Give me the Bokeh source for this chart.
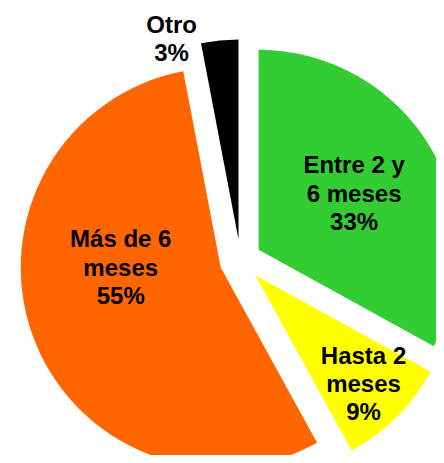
import math
from bokeh.plotting import figure
from bokeh.models import Range1d, ColumnDataSource
from bokeh.core.properties import value
from bokeh.embed import file_html
from bokeh.resources import INLINE

# Data
categories = ["Entre 2 y\n6 meses", "Hasta 2\nmeses", "Más de 6\nmeses", "Otro"]
percents = [33, 9, 55, 3]
colors = ["#33CC33", "#FFFF00", "#FF6600", "#000000"]

# Layout (screen px, y measured up from the bottom of a 463px-tall image)
W, H = 436, 455
CX, CY = 240, 463 - 260   # pie centre
R = 200
EXPLODE = 21
# label anchor: (distance from exploded apex, angle shift in degrees) per slice
label_polar = [(111, 0), (153, 0), (100, -20), (212, 13)]

p = figure(width=W, height=H, output_backend="svg", toolbar_location=None,
           x_range=Range1d(0, W), y_range=Range1d(463 - H, 463),
           min_border=0, outline_line_color=None)
p.xaxis.visible = False
p.yaxis.visible = False
p.grid.visible = False
p.background_fill_color = "white"
p.border_fill_color = "white"

total = float(sum(percents))
xs, ys, starts, ends, lx, ly, labels = [], [], [], [], [], [], []
cum = 0.0
for cat, pct, (ld, ls) in zip(categories, percents, label_polar):
    a = cum / total
    b = (cum + pct) / total
    cum += pct
    start = math.pi / 2 - 2 * math.pi * b
    end = math.pi / 2 - 2 * math.pi * a
    mid = (start + end) / 2
    ox = CX + EXPLODE * math.cos(mid)
    oy = CY + EXPLODE * math.sin(mid)
    xs.append(ox)
    ys.append(oy)
    starts.append(start)
    ends.append(end)
    la = mid + math.radians(ls)
    lx.append(ox + ld * math.cos(la))
    ly.append(oy + ld * math.sin(la))
    labels.append(f"{cat}\n{pct}%")

src = ColumnDataSource(dict(x=xs, y=ys, start=starts, end=ends, color=colors))
p.wedge(x="x", y="y", radius=R, start_angle="start", end_angle="end",
        fill_color="color", line_color=None, source=src)

lsrc = ColumnDataSource(dict(x=lx, y=ly, text=labels))
p.text(x="x", y="y", text="text", source=lsrc, text_align="center",
       text_baseline="middle", text_font=value("Liberation Sans"),
       text_font_style="bold", text_font_size="24px", text_color="black",
       text_line_height=1.05)

open("out.html", "w").write(file_html(p, INLINE))
